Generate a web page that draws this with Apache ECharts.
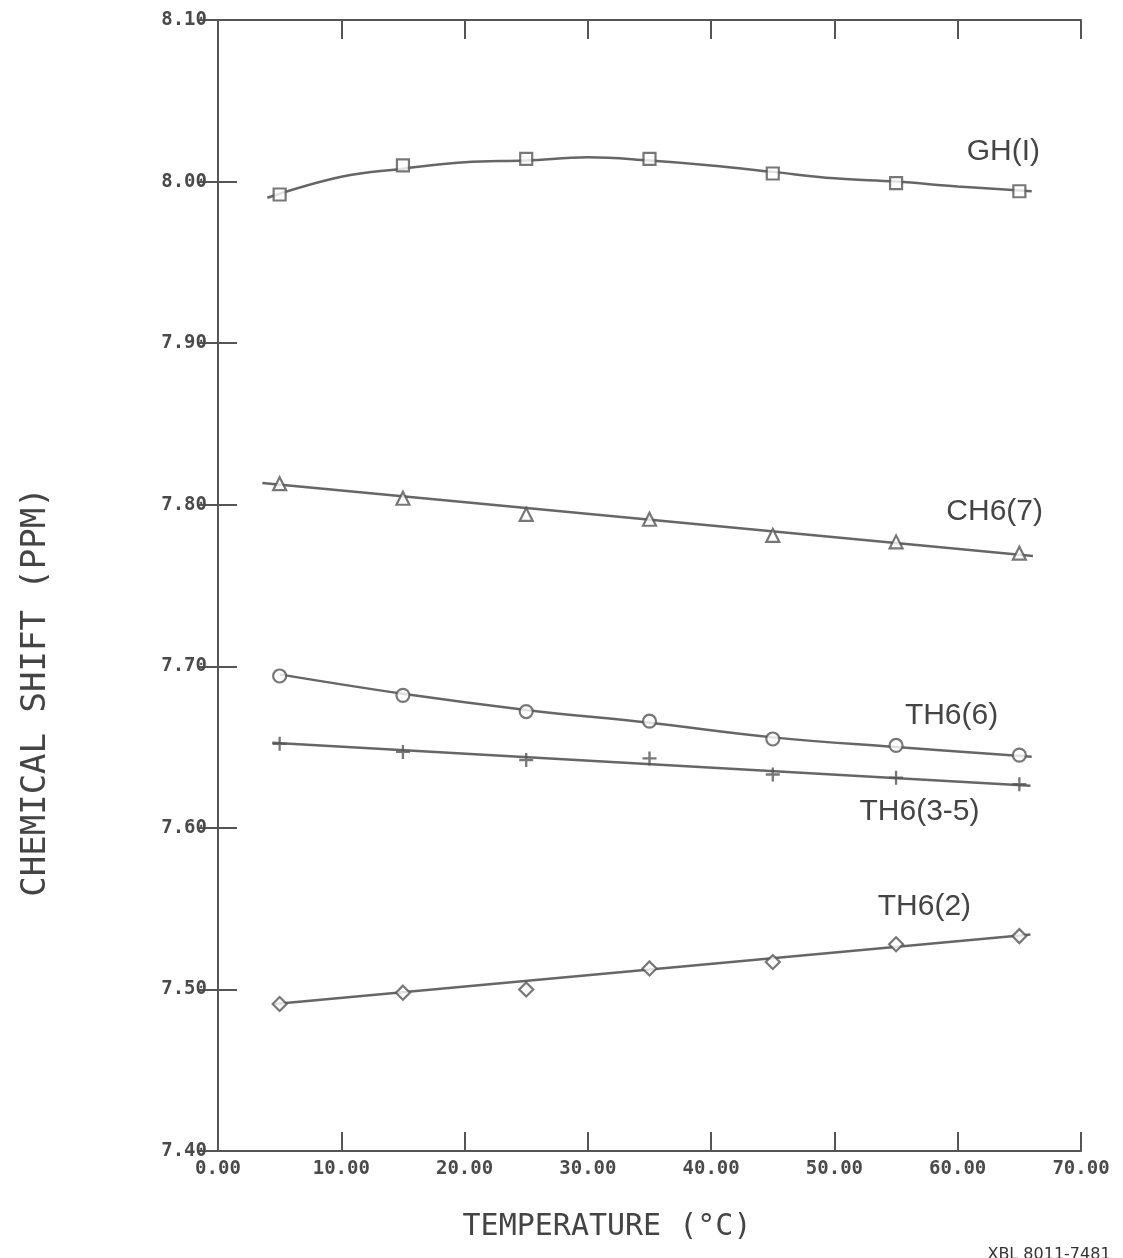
<!DOCTYPE html>
<html>
<head>
<meta charset="utf-8">
<script src="https://cdn.jsdelivr.net/npm/echarts@6/dist/echarts.min.js"></script>
<style>
html,body{margin:0;padding:0;background:#fff;}
#chart{width:1123px;height:1258px;}
</style>
</head>
<body>
<div id="chart"></div>
<script>
// ---- data ----
const temps = [5, 15, 25, 35, 45, 55, 65];
const gh1   = [7.992, 8.010, 8.014, 8.014, 8.005, 7.999, 7.994];
const ch67  = [7.813, 7.804, 7.794, 7.791, 7.781, 7.777, 7.770];
const th66  = [7.694, 7.682, 7.672, 7.666, 7.655, 7.651, 7.645];
const th635 = [7.652, 7.647, 7.642, 7.643, 7.633, 7.631, 7.627];
const th62  = [7.491, 7.498, 7.500, 7.513, 7.517, 7.528, 7.533];

// fitted curves as drawn in the reference
const ghFitX = [4, 10, 15, 20, 25, 30, 35, 40, 45, 50, 55, 60, 66];
const ghFitY = [7.990, 8.003, 8.008, 8.012, 8.013, 8.015, 8.013, 8.010, 8.006, 8.002, 8.000, 7.997, 7.994];
const ch67FitX = [3.6, 66.1];
const ch67FitY = [7.8135, 7.7683];
const th66FitX = [5, 15, 25, 35, 45, 55, 66];
const th66FitY = [7.695, 7.683, 7.673, 7.665, 7.656, 7.650, 7.644];
const th635FitX = [4.4, 65.9];
const th635FitY = [7.6526, 7.626];
const th62FitX = [4.6, 65.9];
const th62FitY = [7.491, 7.534];

const seriesLabels = ['GH(I)', 'CH6(7)', 'TH6(6)', 'TH6(3-5)', 'TH6(2)'];
const labelX = [63.7, 63.0, 59.5, 56.9, 57.3];
const labelY = [8.0183, 7.7955, 7.6693, 7.6099, 7.5511];

const xTitle = 'TEMPERATURE (°C)';
const yTitle = 'CHEMICAL SHIFT (PPM)';
const stamp = 'XBL 8011-7481';

// ---- chart ----
const ink = '#555';
const pair = (xs, ys) => xs.map((x, i) => [x, ys[i]]);

const chart = echarts.init(document.getElementById('chart'), null, {renderer: 'canvas'});

const axisLabelStyle = {
  fontFamily: 'DejaVu Sans Mono', fontSize: 19, fontWeight: 'bold', color: '#4a4a4a'
};
const tickStyle = {show: true, inside: true, length: 19, lineStyle: {color: ink, width: 2}};
const lineAxis = {show: true, lineStyle: {color: ink, width: 2}};

function fitSeries(xs, ys, smooth) {
  return {
    type: 'line', data: pair(xs, ys), showSymbol: false, smooth: smooth ? 0.4 : false,
    lineStyle: {color: '#666', width: 2.5}, z: 2, silent: true
  };
}
function markSeries(ys, symbol, size, filled) {
  return {
    type: 'scatter', data: pair(temps, ys), symbol: symbol, symbolSize: size,
    itemStyle: filled ? {color: ink} : {color: '#fff', borderColor: ink, borderWidth: 2.2},
    z: 3
  };
}

const plusPath = 'path://M5 0 L7 0 L7 5 L12 5 L12 7 L7 7 L7 12 L5 12 L5 7 L0 7 L0 5 L5 5 Z';

chart.setOption({
  animation: false,
  backgroundColor: '#fff',
  grid: {left: 218, right: 42, top: 20, bottom: 107},
  xAxis: [{
    type: 'value', min: 0, max: 70, interval: 10, position: 'bottom',
    axisLine: lineAxis, axisTick: tickStyle, splitLine: {show: false},
    axisLabel: Object.assign({margin: 9, formatter: v => v.toFixed(2)}, axisLabelStyle)
  }, {
    type: 'value', min: 0, max: 70, interval: 10, position: 'top',
    axisLine: lineAxis, axisTick: tickStyle, splitLine: {show: false},
    axisLabel: {show: false}
  }],
  yAxis: [{
    type: 'value', min: 7.4, max: 8.1, interval: 0.1, position: 'left',
    axisLine: lineAxis, axisTick: tickStyle, splitLine: {show: false},
    axisLabel: Object.assign({margin: 11, formatter: v => v.toFixed(2)}, axisLabelStyle)
  }, {
    type: 'value', min: 7.4, max: 8.1, interval: 0.1, position: 'right',
    axisLine: lineAxis, axisTick: tickStyle, splitLine: {show: false},
    axisLabel: {show: false}
  }],
  series: [
    fitSeries(ghFitX, ghFitY, true),
    fitSeries(ch67FitX, ch67FitY, false),
    fitSeries(th66FitX, th66FitY, true),
    fitSeries(th635FitX, th635FitY, false),
    fitSeries(th62FitX, th62FitY, false),
    markSeries(gh1, 'rect', 12, false),
    markSeries(ch67, 'triangle', 13, false),
    markSeries(th66, 'circle', 13, false),
    markSeries(th635, plusPath, 14, true),
    markSeries(th62, 'diamond', 14, false)
  ]
});

const gfx = [];
seriesLabels.forEach((t, i) => {
  const p = chart.convertToPixel({gridIndex: 0}, [labelX[i], labelY[i]]);
  gfx.push({
    type: 'text', x: p[0], y: p[1], z: 10,
    style: {text: t, fontFamily: 'Liberation Sans', fontSize: 30, fill: '#444',
            textAlign: 'center', textVerticalAlign: 'middle'}
  });
});
gfx.push({
  type: 'text', x: 607, y: 1227, z: 10,
  style: {text: xTitle, fontFamily: 'DejaVu Sans Mono', fontSize: 30, fill: '#444',
          textAlign: 'center', textVerticalAlign: 'middle'}
});
gfx.push({
  type: 'text', x: 36, y: 692, rotation: Math.PI / 2, z: 10,
  style: {text: yTitle, fontFamily: 'DejaVu Sans Mono', fontSize: 34, fill: '#444',
          textAlign: 'center', textVerticalAlign: 'middle'}
});
gfx.push({
  type: 'text', x: 1049, y: 1247, z: 10,
  style: {text: stamp, fontFamily: 'DejaVu Sans', fontSize: 16, fill: '#333',
          textAlign: 'center', textVerticalAlign: 'top'}
});
chart.setOption({graphic: gfx});
</script>
</body>
</html>
